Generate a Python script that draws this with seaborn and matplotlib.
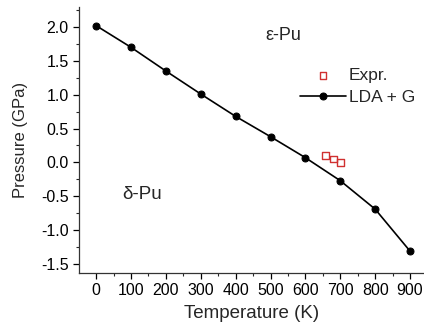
import matplotlib
matplotlib.use("Agg")
import matplotlib.pyplot as plt
import seaborn as sns
import pandas as pd
from matplotlib.ticker import MultipleLocator

sns.set_style("ticks")
plt.rcParams['font.family'] = ['Liberation Sans', 'DejaVu Sans']

temp_lda = [0, 100, 200, 300, 400, 500, 600, 700, 800, 900]
press_lda = [2.02, 1.70, 1.35, 1.01, 0.68, 0.38, 0.07, -0.27, -0.69, -1.31]
temp_expr = [658, 680, 701]
press_expr = [0.10, 0.05, 0.00]

df_lda = pd.DataFrame({"T": temp_lda, "P": press_lda})
df_expr = pd.DataFrame({"T": temp_expr, "P": press_expr})

fig = plt.figure(figsize=(4.24, 3.29), dpi=100)
ax = fig.add_axes([79/424, (329-273)/329, (424-79)/424, (273-7)/329])

sns.scatterplot(data=df_expr, x="T", y="P", ax=ax, marker="s", s=22,
                facecolor="none", edgecolor="#d03030", linewidth=1.0, label="Expr.", zorder=3)
sns.lineplot(data=df_lda, x="T", y="P", ax=ax, color="black", linewidth=1.2,
             marker="o", markersize=5, markeredgecolor="black", label="LDA + G", zorder=2)

ax.set_xlim(-49, 940)
ax.set_ylim(-1.633, 2.295)
ax.xaxis.set_major_locator(MultipleLocator(100))
ax.xaxis.set_minor_locator(MultipleLocator(50))
ax.yaxis.set_minor_locator(MultipleLocator(0.25))
ax.set_yticks([2.0, 1.5, 1.0, 0.5, 0.0, -0.5, -1.0, -1.5])
ax.set_yticklabels(["2.0", "1.5", "1.0", "0.5", "0.0", "-0.5", "-1.0", "-1.5"])
ax.tick_params(which="major", direction="out", length=4, width=0.9, labelsize=11.5, colors="black")
ax.tick_params(which="minor", direction="out", length=2.5, width=0.8)
for s in ["top", "right"]:
    ax.spines[s].set_visible(False)
for s in ["left", "bottom"]:
    ax.spines[s].set_color("#333333")
    ax.spines[s].set_linewidth(0.9)

ax.set_xlabel("Temperature (K)", fontsize=13.5, labelpad=5)
ax.set_ylabel("Pressure (GPa)", fontsize=12, labelpad=9)

ax.text(536, 1.88, "ε-Pu", fontsize=13, ha="center", va="center")
ax.text(131, -0.47, "δ-Pu", fontsize=13.5, ha="center", va="center")

ax.legend(loc="upper right", bbox_to_anchor=(1.02, 0.83), frameon=False, fontsize=12.5,
          handlelength=2.6, handletextpad=0.2, labelspacing=0.4)

fig.savefig("out.png", dpi=100)
